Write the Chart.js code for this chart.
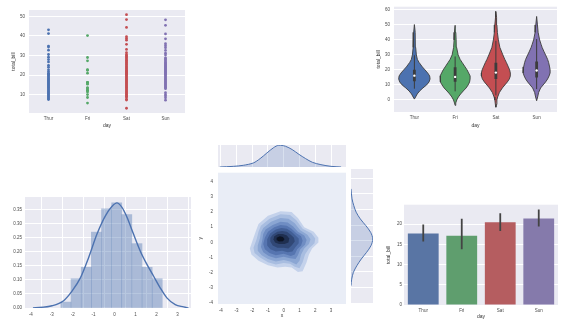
<!DOCTYPE html>
<html><head><meta charset="utf-8">
<script src="https://cdn.jsdelivr.net/npm/chart.js@4.4.0/dist/chart.umd.min.js"></script>
<style>
html,body{margin:0;padding:0;background:#fff;width:569px;height:322px;overflow:hidden;}
canvas{position:absolute;}
</style></head><body>
<canvas id="cStrip"></canvas>
<canvas id="cViolin"></canvas>
<canvas id="cHist"></canvas>
<canvas id="cJoint"></canvas>
<canvas id="cTop"></canvas>
<canvas id="cRight"></canvas>
<canvas id="cBar"></canvas>
<script>
// ---------------- DATA ----------------
const days = ['Thur', 'Fri', 'Sat', 'Sun'];

// strip plot: total_bill by day
const stripThur = [43.1, 41.2, 34.8, 34.3, 32.7, 30.5, 29.1, 27.9, 26.7, 25.0, 24.0, 22.7, 21.8, 21.0, 20.5, 20.0, 19.5, 19.0, 18.5, 18.0, 17.5, 17.0, 16.5, 16.0, 15.5, 15.0, 14.5, 14.0, 13.5, 13.0, 12.5, 12.0, 11.5, 11.0, 10.5, 10.0, 9.5, 9.0, 8.5, 8.0, 7.5];
const stripFri = [40.17, 28.97, 27.28, 22.75, 22.49, 21.01, 16.32, 16.27, 15.98, 15.38, 13.42, 13.42, 12.46, 12.16, 12.03, 11.35, 10.09, 8.58, 5.75];
const stripSat = [50.8, 48.3, 44.3, 39.6, 38.7, 37.8, 35.7, 33.1, 31.4, 30.4, 29.9, 29.3, 28.8, 28.2, 27.6, 27.0, 26.4, 25.8, 25.3, 24.7, 24.1, 23.6, 23.1, 22.5, 22.0, 21.5, 21.0, 20.5, 20.0, 19.5, 19.0, 18.5, 18.0, 17.5, 17.0, 16.5, 16.0, 15.5, 15.0, 14.5, 14.0, 13.5, 13.0, 12.5, 12.0, 11.5, 11.0, 10.5, 10.0, 9.5, 9.0, 8.8, 7.7, 7.3, 3.1];
const stripSun = [48.2, 45.4, 41.0, 38.5, 36.0, 35.0, 34.0, 32.6, 31.2, 30.2, 28.8, 28.3, 27.8, 27.2, 26.6, 26.0, 25.5, 25.0, 24.5, 24.0, 23.5, 23.0, 22.5, 22.0, 21.5, 21.0, 20.5, 20.0, 19.5, 19.0, 18.5, 18.0, 17.5, 17.0, 16.5, 16.0, 15.5, 15.0, 14.5, 14.0, 13.5, 13.1, 11.0, 10.0, 9.3, 8.4, 7.2];
const stripYTicks = [10, 20, 30, 40, 50];

// violin profiles (value, half width in category units)
const vThurY = [0.6, 2, 4, 6, 8, 10, 12, 14, 16, 18, 20, 22, 25, 27, 30, 35, 40, 45, 50.2];
const vThurW = [0, 0.03, 0.07, 0.13, 0.21, 0.30, 0.36, 0.385, 0.375, 0.326, 0.262, 0.196, 0.115, 0.074, 0.049, 0.032, 0.025, 0.017, 0];
const vFriY = [-3.6, -2, 0, 2, 4, 6, 8, 10, 12, 14, 16, 18, 20, 22, 25, 27, 30, 35, 40, 45, 49.7];
const vFriW = [0, 0.015, 0.04, 0.08, 0.135, 0.2, 0.27, 0.32, 0.355, 0.368, 0.368, 0.331, 0.294, 0.245, 0.172, 0.123, 0.074, 0.037, 0.025, 0.017, 0];
const vSatY = [-4.8, -3, 0, 2, 5, 8, 10, 12, 14, 16, 18, 20, 22, 25, 27, 30, 35, 40, 45, 50, 55, 58.9];
const vSatW = [0, 0.012, 0.025, 0.044, 0.086, 0.159, 0.22, 0.282, 0.331, 0.355, 0.355, 0.338, 0.306, 0.257, 0.22, 0.172, 0.098, 0.061, 0.037, 0.025, 0.017, 0];
const vSunY = [-0.5, 2, 5, 8, 10, 12, 14, 16, 18, 20, 22, 25, 27, 30, 32, 35, 37, 40, 45, 50, 55.6];
const vSunW = [0, 0.025, 0.049, 0.098, 0.159, 0.22, 0.27, 0.306, 0.331, 0.331, 0.319, 0.294, 0.27, 0.22, 0.184, 0.135, 0.11, 0.074, 0.037, 0.02, 0];
const boxQ1 = [12.44, 12.09, 13.91, 14.99];
const boxMed = [16.2, 15.38, 18.24, 19.63];
const boxQ3 = [20.16, 21.75, 24.74, 25.6];
const whiskLo = [7.51, 5.75, 3.07, 7.25];
const whiskHi = [29.8, 28.97, 39.42, 40.55];
const violinYTicks = [0, 10, 20, 30, 40, 50, 60];

// distplot
const histEdges = [-2.56, -2.08, -1.59, -1.11, -0.63, -0.14, 0.34, 0.82, 1.31, 1.79, 2.27];
const histDensity = [0.021, 0.104, 0.145, 0.270, 0.353, 0.374, 0.332, 0.229, 0.145, 0.104];
const kdeX = [-3.89, -2.98, -2.43, -2.03, -1.63, -1.24, -0.84, -0.44, -0.12, 0.11, 0.35, 0.59, 0.90, 1.22, 1.54, 1.86, 2.17, 2.49, 2.89, 3.29, 3.52];
const kdeY = [0, 0.008, 0.026, 0.06, 0.107, 0.179, 0.263, 0.328, 0.362, 0.374, 0.358, 0.323, 0.263, 0.203, 0.155, 0.113, 0.072, 0.036, 0.012, 0.004, 0];
const histXTicks = [-4, -3, -2, -1, 0, 1, 2, 3];
const histYTicks = [0, 0.05, 0.10, 0.15, 0.20, 0.25, 0.30, 0.35];

// joint KDE contour levels (outer -> inner), [x, y]
const level1 = [[-1.6,1.2],[-1.0,1.75],[-0.2,2.05],[0.5,2.0],[0.9,1.6],[1.3,1.0],[1.9,0.7],[2.2,0.3],[2.2,0.0],[1.8,-0.4],[1.6,-0.8],[1.45,-1.3],[1.2,-1.9],[0.9,-1.95],[0.5,-1.65],[0.1,-1.6],[-0.4,-1.65],[-1.0,-1.5],[-1.6,-1.2],[-2.05,-0.8],[-2.15,-0.4],[-1.95,0.2],[-1.75,0.8]];
const level2 = [[-1.45,1.1],[-0.9,1.55],[-0.2,1.85],[0.4,1.8],[0.8,1.45],[1.2,0.9],[1.75,0.6],[2.0,0.25],[1.95,-0.05],[1.6,-0.4],[1.35,-0.8],[1.2,-1.3],[1.0,-1.7],[0.7,-1.6],[0.4,-1.4],[0.0,-1.35],[-0.5,-1.45],[-1.0,-1.3],[-1.5,-1.0],[-1.85,-0.7],[-1.92,-0.35],[-1.72,0.2],[-1.6,0.7]];
const level3 = [[-1.3,0.95],[-0.8,1.35],[-0.2,1.6],[0.3,1.55],[0.7,1.25],[1.05,0.8],[1.5,0.5],[1.7,0.2],[1.6,-0.1],[1.3,-0.4],[1.1,-0.8],[1.0,-1.2],[0.8,-1.45],[0.4,-1.25],[0.0,-1.15],[-0.5,-1.25],[-1.0,-1.1],[-1.4,-0.85],[-1.65,-0.55],[-1.65,-0.2],[-1.5,0.3],[-1.45,0.65]];
const level4 = [[-1.15,0.85],[-0.7,1.15],[-0.2,1.35],[0.25,1.3],[0.6,1.05],[0.9,0.7],[1.3,0.45],[1.45,0.15],[1.35,-0.15],[1.05,-0.45],[0.9,-0.85],[0.75,-1.1],[0.4,-1.05],[0.0,-0.95],[-0.5,-1.05],[-0.95,-0.9],[-1.3,-0.65],[-1.45,-0.3],[-1.35,0.2],[-1.3,0.55]];
const level5 = [[-1.0,0.7],[-0.6,1.0],[-0.2,1.15],[0.2,1.1],[0.5,0.9],[0.8,0.6],[1.1,0.4],[1.2,0.1],[1.1,-0.2],[0.85,-0.45],[0.7,-0.8],[0.45,-0.9],[0.0,-0.75],[-0.5,-0.85],[-0.9,-0.7],[-1.2,-0.45],[-1.3,-0.1],[-1.2,0.3]];
const level6 = [[-0.85,0.6],[-0.5,0.85],[-0.15,0.95],[0.2,0.9],[0.5,0.7],[0.75,0.45],[0.95,0.25],[0.95,-0.05],[0.75,-0.3],[0.55,-0.6],[0.25,-0.65],[-0.1,-0.55],[-0.5,-0.6],[-0.85,-0.45],[-1.05,-0.2],[-1.05,0.2]];
const level7 = [[-0.7,0.5],[-0.4,0.7],[-0.1,0.75],[0.2,0.7],[0.45,0.5],[0.65,0.3],[0.7,0.05],[0.5,-0.2],[0.3,-0.4],[0.0,-0.35],[-0.4,-0.35],[-0.7,-0.2],[-0.85,0.05],[-0.85,0.3]];
const level8 = [[-0.6,0.4],[-0.35,0.55],[-0.05,0.55],[0.2,0.45],[0.35,0.25],[0.3,0.0],[0.05,-0.1],[-0.3,-0.1],[-0.55,0.0],[-0.65,0.2]];
const level9 = [[-0.45,0.3],[-0.25,0.4],[-0.05,0.35],[0.05,0.2],[-0.05,0.08],[-0.3,0.05],[-0.45,0.15]];
const jointXTicks = [-4, -3, -2, -1, 0, 1, 2, 3];
const jointYTicks = [-4, -3, -2, -1, 0, 1, 2, 3, 4];
// marginals
const margTopX = [-4.06, -3.2, -2.57, -1.93, -1.5, -1.07, -0.64, -0.32, 0.11, 0.54, 0.96, 1.39, 1.82, 2.36, 3.0, 3.64];
const margTopD = [0, 0.012, 0.031, 0.074, 0.154, 0.258, 0.357, 0.40, 0.382, 0.32, 0.234, 0.154, 0.086, 0.043, 0.012, 0];
const margRightY = [3.31, 2.67, 2.24, 1.82, 1.39, 0.96, 0.53, 0.11, -0.32, -0.75, -1.17, -1.6, -2.03, -2.46, -2.88];
const margRightD = [0, 0.019, 0.051, 0.095, 0.171, 0.273, 0.362, 0.40, 0.368, 0.286, 0.19, 0.108, 0.044, 0.013, 0];

// bar plot
const barMeans = [17.68, 17.15, 20.44, 21.41];
const ciLo = [15.7, 13.8, 18.3, 19.4];
const ciHi = [19.9, 21.3, 22.7, 23.6];
const barYTicks = [0, 5, 10, 15, 20];

// ---------------- STYLE ----------------
const deep = ['#4C72B0', '#55A868', '#C44E52', '#8172B2'];
const muted = ['#5975A4', '#5F9E6E', '#B55D60', '#857AAB'];
const levelColors = ['#C4D2EB', '#A8BDE0', '#8BA6D3', '#6F8DC3', '#5675B0', '#425F96', '#314876', '#1F2F50', '#0D1424'];
const BG = '#EAEAF2';
const TICK = '#4a4a4a';
Chart.defaults.font.family = "'Liberation Sans', Arial, sans-serif";
Chart.defaults.font.size = 4.5;
Chart.defaults.color = TICK;

const bgPlugin = {
  id: 'bgFill',
  beforeDraw(chart, args, opts) {
    const a = chart.chartArea, c = chart.ctx;
    c.save(); c.fillStyle = opts.color || BG;
    c.fillRect(a.left, a.top, a.right - a.left, a.bottom - a.top);
    c.restore();
  }
};
const polyFill = {
  id: 'polyFill',
  beforeDatasetDraw(chart, args) {
    const ds = chart.data.datasets[args.index];
    if (!ds.polyColor) return;
    const pts = args.meta.data, a = chart.chartArea, c = chart.ctx;
    c.save();
    c.beginPath(); c.rect(a.left, a.top, a.right - a.left, a.bottom - a.top); c.clip();
    c.beginPath();
    pts.forEach((p, i) => i ? c.lineTo(p.x, p.y) : c.moveTo(p.x, p.y));
    c.closePath(); c.fillStyle = ds.polyColor; c.fill();
    c.restore();
  }
};
Chart.register(bgPlugin, polyFill);

function lin(o) {
  return {
    type: 'linear', min: o.min, max: o.max, offset: false,
    afterBuildTicks: s => { s.ticks = (o.ticks || []).map(v => ({value: v})); },
    ticks: {display: !!o.show, padding: o.pad == null ? 3 : o.pad, autoSkip: false, maxRotation: 0,
            callback: o.fmt || (v => String(v)), color: TICK, font: {size: 4.5}},
    grid: {display: !!o.grid, color: '#ffffff', lineWidth: 1, drawTicks: false},
    border: {display: false},
    title: o.title ? {display: true, text: o.title, padding: 0, color: '#333', font: {size: 5}} : {display: false}
  };
}

function make(id, box, area, type, datasets, scales, bg, labels) {
  const cv = document.getElementById(id);
  cv.width = box.w; cv.height = box.h;
  cv.style.left = box.x + 'px'; cv.style.top = box.y + 'px';
  const xH = box.y + box.h - area.b, yW = area.l - box.x;
  scales.x.afterFit = s => { s.height = xH; };
  scales.y.afterFit = s => { s.width = yW; };
  const data = {datasets};
  if (labels) data.labels = labels;
  return new Chart(cv, {
    type, data,
    options: {
      responsive: false, animation: false, events: [],
      layout: {padding: {left: 0, bottom: 0, top: area.t - box.y, right: box.x + box.w - area.r}},
      plugins: {legend: {display: false}, tooltip: {enabled: false}, bgFill: {color: bg}},
      scales
    }
  });
}

// ---------------- 1. STRIP PLOT ----------------
const stripSets = [stripThur, stripFri, stripSat, stripSun].map((arr, i) => ({
  data: arr.map(v => ({x: i, y: v})),
  pointRadius: 1.4, pointBorderWidth: 0, backgroundColor: deep[i], showLine: false
}));
make('cStrip', {x: 11, y: 0, w: 179, h: 129}, {l: 29, t: 10, r: 185, b: 113}, 'scatter', stripSets, {
  x: lin({min: -0.5, max: 3.5, ticks: [0, 1, 2, 3], show: true, pad: 3, fmt: v => days[v], title: 'day'}),
  y: lin({min: 0.68, max: 53.2, ticks: stripYTicks, show: true, pad: 4, grid: true, title: 'total_bill'})
}, BG);

// ---------------- 2. VIOLIN PLOT ----------------
const vY = [vThurY, vFriY, vSatY, vSunY], vW = [vThurW, vFriW, vSatW, vSunW];
const violinSets = [];
vY.forEach((ys, i) => {
  const ws = vW[i];
  const right = ys.map((y, k) => ({x: i + ws[k], y}));
  const left = ys.map((y, k) => ({x: i - ws[k], y})).reverse();
  violinSets.push({data: right.concat(left), showLine: true, tension: 0, pointRadius: 0,
    borderColor: '#3c3c3c', borderWidth: 0.9, polyColor: deep[i], fill: false, order: 3});
  violinSets.push({data: [{x: i, y: whiskLo[i]}, {x: i, y: whiskHi[i]}], showLine: true, pointRadius: 0,
    borderColor: '#3c3c3c', borderWidth: 1, fill: false, order: 2});
  violinSets.push({data: [{x: i, y: boxQ1[i]}, {x: i, y: boxQ3[i]}], showLine: true, pointRadius: 0,
    borderColor: '#3c3c3c', borderWidth: 2.8, borderCapStyle: 'butt', fill: false, order: 1});
  violinSets.push({data: [{x: i, y: boxMed[i]}], showLine: false, pointRadius: 1.2, pointBorderWidth: 0,
    backgroundColor: '#ffffff', order: 0});
});
make('cViolin', {x: 376, y: 0, w: 193, h: 129}, {l: 394, t: 5, r: 557, b: 112}, 'scatter', violinSets, {
  x: lin({min: -0.5, max: 3.5, ticks: [0, 1, 2, 3], show: true, pad: 3, fmt: v => days[v], title: 'day'}),
  y: lin({min: -8, max: 62.1, ticks: violinYTicks, show: true, pad: 4, grid: true, title: 'total_bill'})
}, BG);

// ---------------- 3. DISTPLOT ----------------
const histSets = [
  {type: 'line', data: kdeX.map((x, k) => ({x, y: kdeY[k]})), borderColor: deep[0], borderWidth: 1.4,
   pointRadius: 0, cubicInterpolationMode: 'monotone', fill: false, order: 0},
  {type: 'bar', data: histDensity.map((d, k) => ({x: (histEdges[k] + histEdges[k + 1]) / 2, y: d})),
   backgroundColor: 'rgba(76,114,176,0.4)', borderWidth: 0, barPercentage: 1, categoryPercentage: 1, order: 1}
];
make('cHist', {x: 0, y: 190, w: 195, h: 132}, {l: 25, t: 197, r: 191, b: 308}, 'bar', histSets, {
  x: lin({min: -4.27, max: 3.64, ticks: histXTicks, show: true, pad: 4, grid: true}),
  y: lin({min: 0, max: 0.395, ticks: histYTicks, show: true, pad: 3, grid: true, fmt: v => v.toFixed(2)})
}, BG);

// ---------------- 4. JOINT KDE ----------------
const levels = [level1, level2, level3, level4, level5, level6, level7, level8, level9];
const jointSets = levels.map((lv, i) => ({
  data: lv.map(p => ({x: p[0], y: p[1]})), showLine: false, pointRadius: 0,
  polyColor: levelColors[i], order: 10 - i
}));
make('cJoint', {x: 198, y: 165, w: 150, h: 154}, {l: 218, t: 169, r: 346, b: 304}, 'scatter', jointSets, {
  x: lin({min: -4.17, max: 3.95, ticks: jointXTicks, show: true, pad: 4, title: 'x'}),
  y: lin({min: -4.05, max: 4.58, ticks: jointYTicks, show: true, pad: 5, title: 'y'})
}, '#E9EDF6');

make('cTop', {x: 218, y: 145, w: 128, h: 22}, {l: 218, t: 145, r: 346, b: 167}, 'scatter', [
  {data: margTopX.map((x, k) => ({x, y: margTopD[k]})), showLine: true, pointRadius: 0, tension: 0.3,
   borderColor: deep[0], borderWidth: 1, polyColor: 'rgba(76,114,176,0.22)', fill: false}
], {
  x: lin({min: -4.17, max: 3.95, ticks: jointXTicks, grid: true}),
  y: lin({min: 0, max: 0.405, ticks: []})
}, BG);

make('cRight', {x: 351, y: 169, w: 22, h: 135}, {l: 351, t: 169, r: 373, b: 304}, 'scatter', [
  {data: margRightY.map((y, k) => ({x: margRightD[k], y})), showLine: true, pointRadius: 0, tension: 0.3,
   borderColor: deep[0], borderWidth: 1, polyColor: 'rgba(76,114,176,0.22)', fill: false}
], {
  x: lin({min: 0, max: 0.405, ticks: []}),
  y: lin({min: -4.05, max: 4.58, ticks: jointYTicks, grid: true})
}, BG);

// ---------------- 5. BAR PLOT ----------------
const barSets = [
  {type: 'bar', data: barMeans, backgroundColor: muted, borderWidth: 0, barPercentage: 0.8, categoryPercentage: 1, order: 1}
];
days.forEach((d, i) => barSets.push({type: 'line', data: [{x: d, y: ciLo[i]}, {x: d, y: ciHi[i]}],
  borderColor: '#444444', borderWidth: 1.8, pointRadius: 0, fill: false, order: 0}));
const barX = {type: 'category', offset: true, grid: {display: false, drawTicks: false}, border: {display: false},
  ticks: {padding: 3, color: TICK, font: {size: 4.5}, maxRotation: 0},
  title: {display: true, text: 'day', padding: 0, color: '#333', font: {size: 5}}};
make('cBar', {x: 386, y: 200, w: 183, h: 120}, {l: 404, t: 204, r: 558, b: 305}, 'bar', barSets, {
  x: barX,
  y: lin({min: 0, max: 24.8, ticks: barYTicks, show: true, pad: 2, grid: true, title: 'total_bill'})
}, BG, days);
</script>
</body></html>
